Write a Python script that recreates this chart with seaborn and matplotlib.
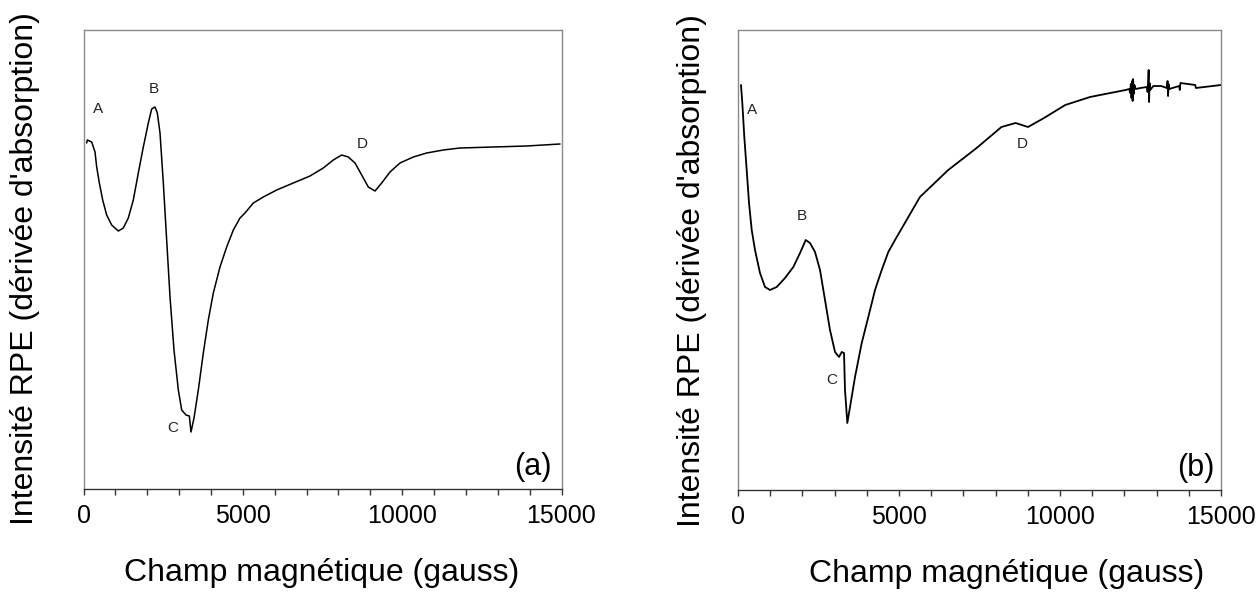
import matplotlib
matplotlib.use('agg')
import matplotlib.pyplot as plt
import pandas as pd
import seaborn as sns
from matplotlib.ticker import MultipleLocator

# field (gauss) / EPR intensity (arbitrary units)
field_a = [100, 120, 257, 361, 414, 497, 602, 727, 884, 1093, 1250, 1406, 1563, 1720,
           1877, 2034, 2139, 2244, 2317, 2401, 2505, 2610, 2715, 2840, 2976, 3081, 3216,
           3321, 3373, 3468, 3603, 3760, 3917, 4074, 4283, 4493, 4702, 4911, 5068, 5329,
           5643, 6062, 6584, 7108, 7525, 7839, 8102, 8310, 8520, 8730, 8937, 9148, 9357,
           9618, 9932, 10350, 10769, 11291, 11815, 12860, 13907, 14953]
signal_a = [346, 349, 347, 337, 322, 306, 289, 274, 264, 258, 261, 271, 289, 316,
            342, 366, 380, 382, 376, 356, 306, 249, 192, 139, 99, 79, 74,
            73, 57, 71, 99, 136, 169, 196, 222, 242, 259, 271, 276, 286,
            292, 299, 306, 313, 321, 329, 334, 332, 326, 314, 302, 298, 306,
            317, 326, 332, 336, 339, 341, 342, 343, 345]

field_b = [93, 134, 196, 270, 342, 426, 528, 683, 839, 994, 1202, 1460, 1718, 1926,
           2103, 2236, 2392, 2547, 2702, 2857, 3013, 3137, 3221, 3292, 3323, 3395, 3479,
           3634, 3842, 4047, 4255, 4463, 4668, 4876, 5650, 6529, 7411, 8181, 8622,
           9007, 9504, 10163, 10933, 12036,
           12150, 12180, 12200, 12220, 12240, 12256, 12270, 12290, 12310, 12350,
           12500, 12700, 12720, 12740, 12753, 12766, 12780, 12800, 12900,
           13138, 13320, 13340, 13356, 13370, 13390, 13700, 13720, 13740, 14200, 14220, 15000]
signal_b = [405, 387, 353, 320, 287, 260, 240, 217, 203, 200, 203, 212, 223, 237,
            250, 247, 238, 220, 190, 160, 138, 133, 138, 137, 100, 67, 83,
            113, 147, 173, 200, 220, 238, 250, 293, 320, 342, 363, 367,
            363, 372, 385, 393, 400,
            401, 397, 406, 392, 409, 389, 411, 396, 405, 401,
            402, 403, 398, 409, 420, 388, 407, 400, 404,
            404, 402, 409, 394, 406, 401, 404, 400, 407, 405, 402, 405]

peaks = ['A', 'B', 'C', 'D']
peak_x_a = [464, 2212, 2799, 8761]
peak_y_a = [380, 400, 61, 345]
peak_x_b = [426, 1978, 2910, 8821]
peak_y_b = [380, 274, 110, 346]

sns.set_theme(style='ticks')
plt.rcParams['font.family'] = ['Liberation Sans', 'DejaVu Sans']
plt.rcParams['text.color'] = 'black'
plt.rcParams['axes.labelcolor'] = 'black'

fig = plt.figure(figsize=(12.56, 5.92), dpi=100)
W, H = 1256, 592
ax_a = fig.add_axes([83.5 / W, (H - 489) / H, 478 / W, 459 / H])
ax_b = fig.add_axes([738 / W, (H - 490) / H, 483 / W, 460 / H])

panels = [
    (ax_a, field_a, signal_a, peak_x_a, peak_y_a, '(a)', 14700, 459, 0.499, -0.091, 0.48, 1.1),
    (ax_b, field_b, signal_b, peak_x_b, peak_y_b, '(b)', 14785, 460, 0.557, -0.064, 0.478, 1.3),
]

for ax, fx, sy, px, py, tag, tag_x, ytop, xl_x, yl_x, yl_y, lw in panels:
    df = pd.DataFrame({'field': fx, 'signal': sy})
    sns.lineplot(data=df, x='field', y='signal', ax=ax, color='black', lw=lw,
                 estimator=None, sort=False)
    ax.set_xlim(0, 15000)
    ax.set_ylim(0, ytop)
    ax.set_yticks([])
    ax.xaxis.set_major_locator(MultipleLocator(5000))
    ax.xaxis.set_minor_locator(MultipleLocator(1000))
    ax.tick_params(axis='x', which='both', direction='out', length=4.5, width=1,
                   color='#333333', pad=6, labelsize=18, labelcolor='black')
    for side in ['left', 'top', 'right']:
        ax.spines[side].set_color('#8a8a8a')
        ax.spines[side].set_linewidth(1)
    ax.spines['bottom'].set_color('#333333')
    ax.spines['bottom'].set_linewidth(1)

    for lab, x, y in zip(peaks, px, py):
        ax.text(x, y, lab, fontsize=11, color='#222222', ha='center', va='center')
    ax.text(tag_x, 14, tag, fontsize=22, ha='right', va='baseline', color='black')

    ax.set_xlabel('Champ magnétique (gauss)', fontsize=23)
    ax.set_ylabel("Intensité RPE (dérivée d'absorption)", fontsize=23)
    ax.xaxis.set_label_coords(xl_x, -0.150)
    ax.yaxis.set_label_coords(yl_x, yl_y)

fig.savefig('out.png', dpi=100, facecolor='white')
